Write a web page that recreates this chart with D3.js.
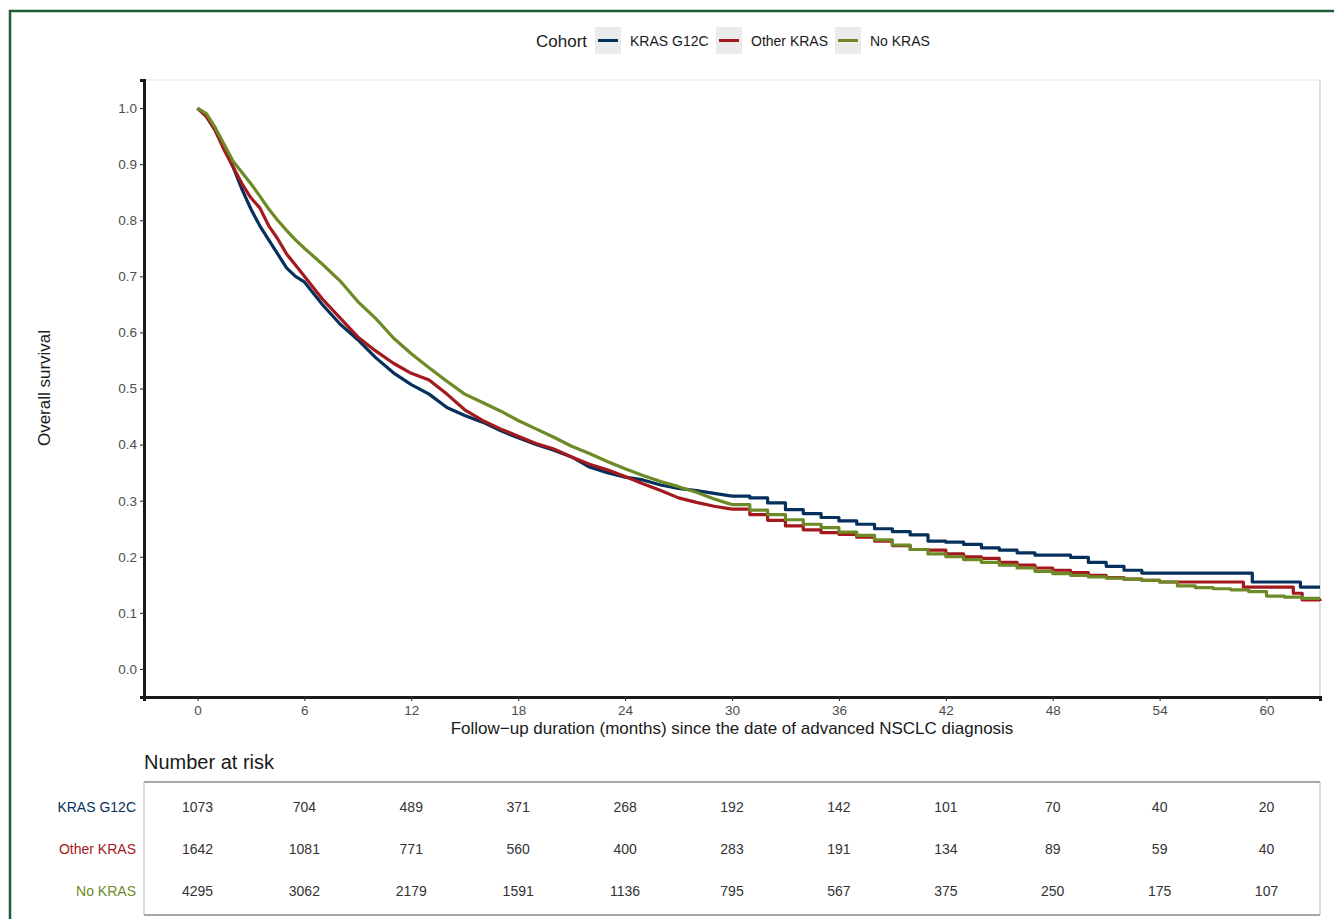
<!DOCTYPE html>
<html>
<head>
<meta charset="utf-8">
<script src="https://cdn.jsdelivr.net/npm/d3@7"></script>
<style>
body{margin:0;background:#fff;font-family:"Liberation Sans",Arial,sans-serif;}
svg text{font-family:"Liberation Sans",Arial,sans-serif;}
</style>
</head>
<body>
<svg id="chart" width="1334" height="919"></svg>
<script>
// cohorts and colours
var cohorts=['KRAS G12C','Other KRAS','No KRAS'];
var colors=['#06305c','#a3191d','#6e8a26'];
// survival curves (months, probability)
var g12cT=[0,0.5,1,1.5,2,2.5,3,3.5,4,4.5,5,5.5,6,7,8,9,10,11,12,13,14,15,16,17,18,19,20,21,22,23,24,25,26,27,28,29,30,31,32,33,34,35,36,37,38,39,40,41,42,43,44,45,46,47,48,49,50,51,52,53,59.2,61.9,63];
var g12cS=[1,0.985,0.96,0.93,0.895,0.855,0.82,0.79,0.765,0.74,0.715,0.70,0.69,0.65,0.615,0.587,0.555,0.528,0.507,0.49,0.466,0.452,0.44,0.425,0.412,0.40,0.39,0.378,0.36,0.35,0.342,0.337,0.328,0.322,0.318,0.313,0.308,0.305,0.296,0.284,0.277,0.27,0.264,0.258,0.25,0.245,0.239,0.228,0.226,0.222,0.216,0.212,0.207,0.203,0.203,0.199,0.19,0.183,0.176,0.171,0.155,0.146,0.146];
var otherT=[0,0.5,1,1.5,2,2.5,3,3.5,4,4.5,5,5.5,6,7,8,9,10,11,12,13,14,15,16,17,18,19,20,21,22,23,24,25,26,27,28,29,30,31,32,33,34,35,36,37,38,39,40,41,42,43,44,45,46,47,48,49,50,51,52,53,54,58.7,61.5,62,63];
var otherS=[1,0.985,0.96,0.925,0.895,0.865,0.84,0.822,0.79,0.767,0.74,0.72,0.70,0.66,0.626,0.592,0.567,0.545,0.527,0.515,0.49,0.462,0.443,0.428,0.415,0.402,0.392,0.378,0.365,0.355,0.343,0.33,0.318,0.305,0.297,0.29,0.285,0.275,0.265,0.255,0.248,0.243,0.24,0.235,0.228,0.22,0.213,0.212,0.205,0.2,0.197,0.19,0.185,0.18,0.176,0.172,0.167,0.163,0.16,0.158,0.155,0.146,0.135,0.123,0.121];
var noT=[0,0.5,1,1.5,2,2.5,3,3.5,4,4.5,5,5.5,6,7,8,9,10,11,12,13,14,15,16,17,18,19,20,21,22,23,24,25,26,27,28,29,30,31,32,33,34,35,36,37,38,39,40,41,42,43,44,45,46,47,48,49,50,51,52,53,54,55,56,57,58,59,60,61,62,63];
var noS=[1,0.99,0.965,0.935,0.905,0.885,0.865,0.843,0.82,0.80,0.782,0.765,0.75,0.722,0.692,0.655,0.625,0.59,0.562,0.537,0.513,0.49,0.475,0.46,0.443,0.428,0.413,0.397,0.384,0.37,0.357,0.345,0.334,0.325,0.315,0.303,0.293,0.283,0.275,0.266,0.258,0.252,0.244,0.238,0.23,0.221,0.213,0.205,0.2,0.195,0.19,0.185,0.18,0.174,0.17,0.167,0.164,0.162,0.16,0.158,0.155,0.148,0.145,0.143,0.141,0.138,0.13,0.128,0.126,0.126];
// number at risk
var riskTimes=[0,6,12,18,24,30,36,42,48,54,60];
var riskG12C=[1073,704,489,371,268,192,142,101,70,40,20];
var riskOther=[1642,1081,771,560,400,283,191,134,89,59,40];
var riskNo=[4295,3062,2179,1591,1136,795,567,375,250,175,107];
var xTicks=[0,6,12,18,24,30,36,42,48,54,60];
var yTicks=[0,0.1,0.2,0.3,0.4,0.5,0.6,0.7,0.8,0.9,1.0];

var svg=d3.select('#chart');
var L=144,R=1320,T=80,B=697;
var x=d3.scaleLinear().domain([-3,63]).range([L,R]);
var y=d3.scaleLinear().domain([-0.05,1.05]).range([B,T]);

// outer frame
svg.append('path').attr('d','M10,919 L10,11 L1334,11')
	.attr('fill','none').attr('stroke','#1d5e36').attr('stroke-width',2.5);

// panel border (top/right)
svg.append('line').attr('x1',L).attr('x2',R).attr('y1',T).attr('y2',T).attr('stroke','#e3e3e3').attr('stroke-width',1.2);
svg.append('line').attr('x1',R).attr('x2',R).attr('y1',T).attr('y2',B).attr('stroke','#c9c9c9').attr('stroke-width',1.2);

// axes
var yAx=svg.append('g').attr('transform','translate('+L+',0)')
	.call(d3.axisLeft(y).tickValues(yTicks).tickFormat(d3.format('.1f')).tickSizeOuter(0).tickSize(4));
var xAx=svg.append('g').attr('transform','translate(0,'+B+')')
	.call(d3.axisBottom(x).tickValues(xTicks).tickSizeOuter(0).tickSize(4));
[yAx,xAx].forEach(function(a){
	a.select('.domain').attr('stroke','#1a1a1a').attr('stroke-width',3);
	a.selectAll('.tick line').attr('stroke','#333').attr('stroke-width',1.1);
	a.selectAll('.tick text').attr('fill','#4d4d4d').attr('font-size',13.5);
});
yAx.selectAll('.tick text').attr('x',-7);
xAx.selectAll('.tick text').attr('y',8);

// axis titles
svg.append('text').attr('transform','translate(50,388) rotate(-90)').attr('text-anchor','middle')
	.attr('font-size',17).attr('fill','#1a1a1a').text('Overall survival');
svg.append('text').attr('x',732).attr('y',734).attr('text-anchor','middle')
	.attr('font-size',17).attr('fill','#1a1a1a').text('Follow\u2212up duration (months) since the date of advanced NSCLC diagnosis');

// curves: dense early part drawn smooth, sparse tail drawn as steps
var smooth=d3.line().x(function(d){return x(d[0]);}).y(function(d){return y(d[1]);});
var steps=d3.line().x(function(d){return x(d[0]);}).y(function(d){return y(d[1]);}).curve(d3.curveStepAfter);
var series=[[g12cT,g12cS],[otherT,otherS],[noT,noS]];
series.forEach(function(s,i){
	var pts=s[0].map(function(t,k){return [t,s[1][k]];});
	var head=pts.filter(function(p){return p[0]<=30;});
	var tail=pts.filter(function(p){return p[0]>=30;});
	svg.append('path').datum(head).attr('d',smooth).attr('fill','none')
		.attr('stroke',colors[i]).attr('stroke-width',3.2).attr('stroke-linejoin','round');
	svg.append('path').datum(tail).attr('d',steps).attr('fill','none')
		.attr('stroke',colors[i]).attr('stroke-width',3.2).attr('stroke-linejoin','round');
});

// legend
var lg=svg.append('g');
lg.append('text').attr('x',536).attr('y',47).attr('font-size',17).attr('fill','#1a1a1a').text('Cohort');
var keyX=[595,716,835];
cohorts.forEach(function(c,i){
	lg.append('rect').attr('x',keyX[i]).attr('y',27).attr('width',26).attr('height',27).attr('fill','#ebebeb');
	lg.append('line').attr('x1',keyX[i]+3).attr('x2',keyX[i]+23).attr('y1',40.5).attr('y2',40.5)
		.attr('stroke',colors[i]).attr('stroke-width',3);
	lg.append('text').attr('x',keyX[i]+35).attr('y',46).attr('font-size',14).attr('fill','#1a1a1a').text(c);
});

// risk table
svg.append('text').attr('x',144).attr('y',769).attr('font-size',20).attr('fill','#1a1a1a').text('Number at risk');
var tT=782,tB=915;
svg.append('line').attr('x1',L).attr('x2',R).attr('y1',tT).attr('y2',tT).attr('stroke','#8a8a8a').attr('stroke-width',1.3);
svg.append('line').attr('x1',L).attr('x2',R).attr('y1',tB).attr('y2',tB).attr('stroke','#8a8a8a').attr('stroke-width',1.3);
svg.append('line').attr('x1',L).attr('x2',L).attr('y1',tT).attr('y2',tB).attr('stroke','#b5b5b5').attr('stroke-width',1);
svg.append('line').attr('x1',R).attr('x2',R).attr('y1',tT).attr('y2',tB).attr('stroke','#b5b5b5').attr('stroke-width',1);
var rowY=[807,849,891];
var risks=[riskG12C,riskOther,riskNo];
risks.forEach(function(r,i){
	svg.append('text').attr('x',136).attr('y',rowY[i]+5).attr('text-anchor','end')
		.attr('font-size',14).attr('fill',colors[i]).text(cohorts[i]);
	svg.selectAll(null).data(r).enter().append('text')
		.attr('x',function(d,k){return x(riskTimes[k]);}).attr('y',rowY[i]+5)
		.attr('text-anchor','middle').attr('font-size',14).attr('fill','#333')
		.text(function(d){return d;});
});
</script>
</body>
</html>
